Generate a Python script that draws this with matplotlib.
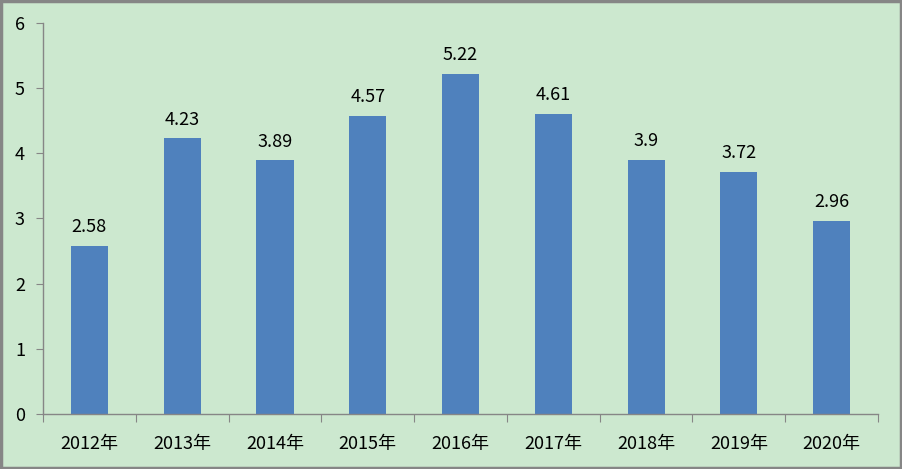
import matplotlib
matplotlib.use("Agg")
import matplotlib.pyplot as plt

plt.rcParams['font.family'] = ['Noto Sans CJK SC', 'DejaVu Sans']

years = ["2012年", "2013年", "2014年", "2015年", "2016年", "2017年", "2018年", "2019年", "2020年"]
values = [2.58, 4.23, 3.89, 4.57, 5.22, 4.61, 3.9, 3.72, 2.96]
value_labels = ["2.58", "4.23", "3.89", "4.57", "5.22", "4.61", "3.9", "3.72", "2.96"]

BG = "#CCE8CF"
BAR = "#4F81BD"
AXIS = "#868686"
FS = 13

fig = plt.figure(figsize=(9.02, 4.69), dpi=100)
fig.patch.set_facecolor(BG)
ax = fig.add_axes([0.0477, 0.1173, 0.9257, 0.8337])
ax.set_facecolor(BG)

x = list(range(len(years)))
ax.bar(x, values, width=0.4, color=BAR, zorder=2)

for xi, v, lab in zip(x, values, value_labels):
    ax.annotate(lab, (xi, v), xytext=(0, 7), textcoords="offset points",
                ha="center", va="bottom", fontsize=FS, color="black")

ax.set_xlim(-0.5, len(years) - 0.5)
ax.set_ylim(0, 6)
ax.set_yticks(range(0, 7))
ax.set_xticks([i - 0.5 for i in range(len(years) + 1)], minor=False)
ax.set_xticklabels([""] * (len(years) + 1))
ax.set_xticks(x, minor=True)
ax.set_xticklabels(years, minor=True)
ax.tick_params(axis="x", which="minor", length=0, pad=15, labelsize=FS)
ax.tick_params(axis="x", which="major", direction="out", length=6, color=AXIS)
ax.tick_params(axis="y", direction="out", length=5, color=AXIS, labelsize=FS, pad=8)

for s in ["top", "right"]:
    ax.spines[s].set_visible(False)
for s in ["left", "bottom"]:
    ax.spines[s].set_color(AXIS)
    ax.spines[s].set_linewidth(1)

# outer border
fig.add_artist(plt.Rectangle((0.0015, 0.002), 0.997, 0.996, transform=fig.transFigure,
                             fill=False, edgecolor=AXIS, linewidth=2.5))

fig.savefig("out.png", dpi=100, facecolor=BG)
